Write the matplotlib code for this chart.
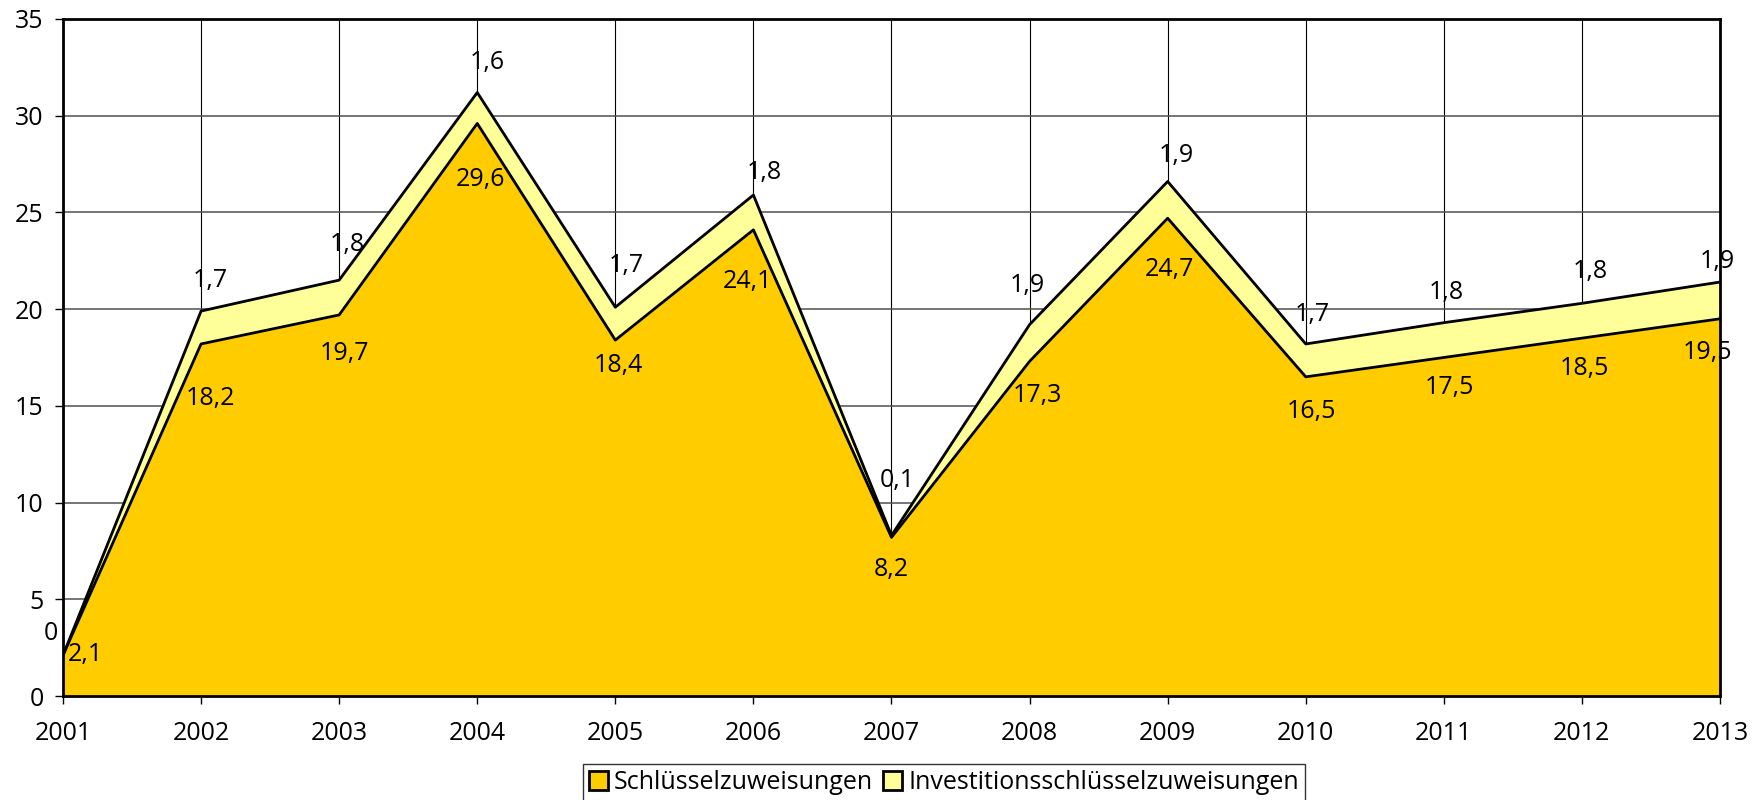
import numpy as np
import matplotlib
matplotlib.use("Agg")
import matplotlib.pyplot as plt

plt.rcParams['font.family'] = ['Open Sans', 'DejaVu Sans']

# data
years = ["2001", "2002", "2003", "2004", "2005", "2006", "2007",
         "2008", "2009", "2010", "2011", "2012", "2013"]
schluessel = [2.1, 18.2, 19.7, 29.6, 18.4, 24.1, 8.2, 17.3, 24.7, 16.5, 17.5, 18.5, 19.5]
investition = [0, 1.7, 1.8, 1.6, 1.7, 1.8, 0.1, 1.9, 1.9, 1.7, 1.8, 1.8, 1.9]
series_names = ["Schlüsselzuweisungen", "Investitionsschlüsselzuweisungen"]

# label placement (offsets from the data point, in data units)
low_dy = [0.18, -2.65, -1.83, -2.76, -1.17, -2.53, -1.53, -1.63, -2.5, -1.63, -1.42, -1.42, -1.57]
up_dy = [1.3, 1.73, 2.0, 1.7, 2.33, 1.33, 3.0, 2.2, 1.5, 1.67, 1.74, 1.78, 1.2]
low_dx = [0.165, 0.07, 0.04, 0.02, 0.02, -0.04, 0.0, 0.06, 0.01, 0.04, 0.04, 0.02, -0.09]
up_dx = [-0.086, 0.07, 0.06, 0.07, 0.08, 0.08, 0.04, -0.02, 0.06, 0.05, 0.02, 0.06, -0.02]

def fmt(v):
    s = "%.1f" % v
    if s.endswith(".0"):
        s = s[:-2]
    return s.replace(".", ",")

x = np.arange(len(years))
lower = np.array(schluessel)
upper = lower + np.array(investition)

fig = plt.figure(figsize=(17.55, 8), dpi=100)
ax = fig.add_axes([63 / 1755, 104 / 800, (1720 - 63) / 1755, (696 - 19) / 800])

ax.fill_between(x, 0, lower, color="#FFCC00", zorder=2, label=series_names[0])
ax.fill_between(x, lower, upper, color="#FFFF99", zorder=2, label=series_names[1])
ax.plot(x, lower, color="black", lw=2, zorder=3)
ax.plot(x, upper, color="black", lw=2, zorder=3)

ax.set_xlim(0, len(years) - 1)
ax.set_ylim(0, 35)
ax.set_xticks(x)
ax.set_xticklabels(years)
ax.set_yticks(np.arange(0, 36, 5))
ax.xaxis.grid(True, color="black", lw=0.8, zorder=1)
ax.yaxis.grid(True, color="#505050", lw=1.1, zorder=1)
ax.set_axisbelow(True)
ax.tick_params(axis="both", labelsize=18, length=6, width=1, direction="out", colors="black")
ax.tick_params(axis="x", pad=12)
ax.tick_params(axis="y", pad=8)
for sp in ax.spines.values():
    sp.set_linewidth(2)

# value labels
for i in range(len(years)):
    ax.text(x[i] + low_dx[i], lower[i] + low_dy[i], fmt(schluessel[i]),
            ha="center", va="center_baseline", fontsize=18, zorder=4, clip_on=False)
    ax.text(x[i] + up_dx[i], upper[i] + up_dy[i], fmt(investition[i]),
            ha="center", va="center_baseline", fontsize=18, zorder=4, clip_on=False)

leg = fig.legend(handles=ax.collections[:2], labels=series_names, loc="upper center",
                 bbox_to_anchor=(944 / 1755, 36 / 800), ncol=2, fontsize=18,
                 frameon=True, fancybox=False, edgecolor="black",
                 handlelength=0.75, handleheight=0.75, handletextpad=0.25,
                 columnspacing=0.4, borderpad=0.25, borderaxespad=0)
leg.get_frame().set_linewidth(1)
for h in leg.legend_handles:
    h.set_edgecolor("black")
    h.set_linewidth(2)

fig.savefig("out.png", dpi=100)
